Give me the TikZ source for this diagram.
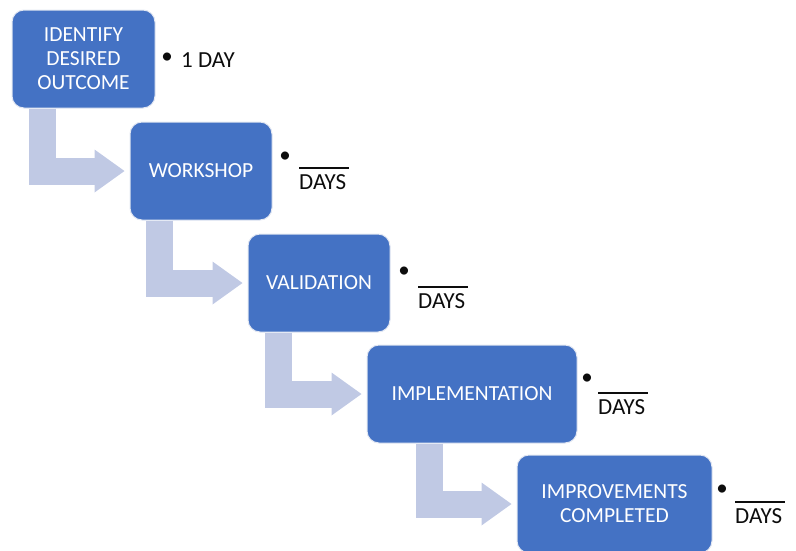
\documentclass[tikz,border=0pt]{standalone}
\usepackage{fontspec}
\setmainfont{Carlito}
\usetikzlibrary{arrows.meta}

\definecolor{stageblue}{RGB}{68,114,196}
\definecolor{stagearrow}{RGB}{192,201,228}
\definecolor{stageedge}{RGB}{226,231,242}

\begin{document}
\begin{tikzpicture}[x=1pt,y=-1pt,>={Triangle[width=43pt,length=30pt,line width=0pt]},
	stage/.style={rectangle,rounded corners=12pt,fill=stageblue,draw=stageedge,line width=1pt,text=white,align=center,font=\fontsize{21.5}{24}\selectfont,inner sep=0pt,minimum height=98pt},
	down arrow/.style={->,draw=stagearrow,line width=27pt,shorten >=5pt},
	note/.style={text=black!95,font=\fontsize{23}{25.5}\selectfont,inner sep=0pt}]

	%picture size
	\useasboundingbox (0,0) rectangle (796,550);

	%stages
	\node[stage, minimum width=143pt] (identify) at (83.5,59) {IDENTIFY\\DESIRED\\OUTCOME};
	\node[stage, minimum width=142pt] (workshop) at (201,171) {WORKSHOP};
	\node[stage, minimum width=142pt] (validation) at (319,283) {VALIDATION};
	\node[stage, minimum width=210pt] (implementation) at (472,394) {IMPLEMENTATION};
	\node[stage, minimum width=195pt] (improvements) at (614.5,504) {IMPROVEMENTS\\COMPLETED};

	%bent arrows between stages
	\draw[down arrow] ([xshift=30.5pt]identify.south west) |- (workshop.west);
	\draw[down arrow] ([xshift=30pt]workshop.south west) |- (validation.west);
	\draw[down arrow] ([xshift=31pt]validation.south west) |- (implementation.west);
	\draw[down arrow] ([xshift=63pt]implementation.south west) |- (improvements.west);

	%durations
	\node[note] (identifydot) at (167,58) {\textbullet};
	\node[note, anchor=base west] (identifydays) at (181,67) {1 DAY};
	\node[note] (workshopdot) at (285,157) {\textbullet};
	\node[note, anchor=south west, align=left, text depth=0pt] (workshopdays) at (299,190) {\rule[-4.3pt]{50pt}{1.3pt}\\DAYS};
	\node[note] (validationdot) at (404,272) {\textbullet};
	\node[note, anchor=south west, align=left, text depth=0pt] (validationdays) at (418,309) {\rule[-4.3pt]{50pt}{1.3pt}\\DAYS};
	\node[note] (implementationdot) at (587,379) {\textbullet};
	\node[note, anchor=south west, align=left, text depth=0pt] (implementationdays) at (598,415) {\rule[-4.3pt]{50pt}{1.3pt}\\DAYS};
	\node[note] (improvementsdot) at (722,490) {\textbullet};
	\node[note, anchor=south west, align=left, text depth=0pt] (improvementsdays) at (735,524) {\rule[-4.3pt]{50pt}{1.3pt}\\DAYS};

\end{tikzpicture}
\end{document}
